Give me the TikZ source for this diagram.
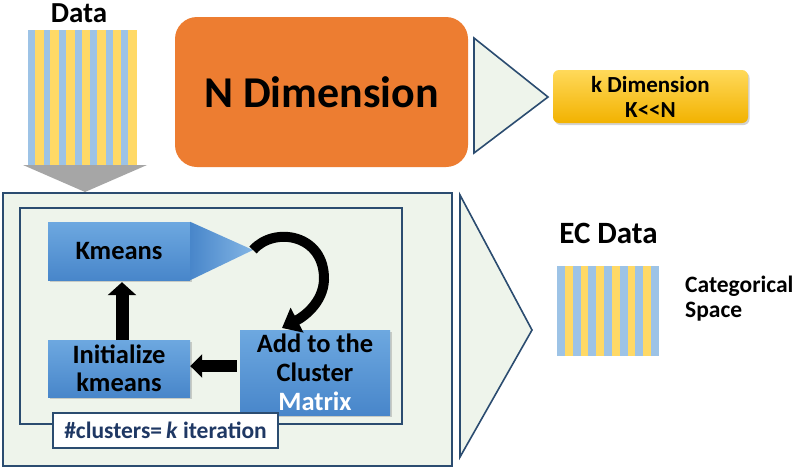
\documentclass[tikz,border=0pt]{standalone}
\usepackage{fontspec}
\setmainfont{Carlito}
\usetikzlibrary{arrows.meta,shadows,calc}
\definecolor{stripeblue}{HTML}{9DC3E6}
\definecolor{stripeyellow}{HTML}{FFD966}
\definecolor{framec}{HTML}{2B4C70}
\definecolor{panel}{HTML}{EEF4EB}
\definecolor{bluetop}{HTML}{6DA8E0}
\definecolor{bluebot}{HTML}{4886CA}
\definecolor{orangec}{HTML}{ED7D31}
\definecolor{yeltop}{HTML}{FFD95A}
\definecolor{yelbot}{HTML}{F2B200}
\definecolor{graya}{HTML}{A6A6A6}
\definecolor{navy}{HTML}{1F3864}
\tikzset{
  bluebox/.style={rectangle, top color=bluetop, bottom color=bluebot, draw=none,
    drop shadow={shadow xshift=1.5pt, shadow yshift=-2pt, opacity=0.35},
    font=\fontsize{26.5}{28.5}\selectfont\bfseries, text=black, align=center, inner sep=0pt},
  frame/.style={draw=framec, line width=1.6pt, fill=panel},
  outlinetri/.style={draw=framec, line width=1.6pt, fill=panel, line join=miter},
  fatarrow/.style={draw=black, line width=#1},
  title/.style={font=\fontsize{31}{33}\selectfont\bfseries, anchor=base, text=black},
}
\begin{document}
\begin{tikzpicture}[x=1pt,y=-1pt]
\useasboundingbox (0,0) rectangle (794,469);
\fill[white] (0,0) rectangle (794,469);

% Data title and stripes
\node[title, font=\fontsize{29}{31}\selectfont\bfseries] (datalbl) at (79,22.5) {Data};
\fill[stripeyellow] (28,30) rectangle (137,165);
\foreach \i in {0,...,6} {
  \fill[stripeblue] ({28+\i*15.57},30) rectangle ++(6.8,135);
}
% gray down arrow
\fill[graya] (23,165) -- (147,165) -- (85,192) -- cycle;

% N Dimension box
\node[rectangle, rounded corners=22pt, fill=orangec, minimum width=293pt, minimum height=150pt,
  font=\fontsize{44}{46}\selectfont\bfseries, text=black] (ndim) at (321.5,92) {N Dimension};

% top triangle
\draw[outlinetri] (474,38) -- (548,97) -- (474,153) -- cycle;

% k dimension box
\node[rectangle, rounded corners=6pt, top color=yeltop, bottom color=yelbot,
  drop shadow={shadow xshift=1.5pt, shadow yshift=-2pt, opacity=0.35},
  minimum width=195pt, minimum height=53pt, inner sep=0pt, align=center,
  font=\fontsize{23}{25}\selectfont\bfseries, text=black] (kdim) at (650.5,96.5) {k Dimension\\K<{}<N};

% outer panel
\draw[frame] (3,193) rectangle (452,466);
\draw[draw=framec, line width=1.6pt] (20,208) rectangle (402,424);

% Kmeans box with arrow head
\node[bluebox, minimum width=142pt, minimum height=58pt] (km) at (119,251) {Kmeans};
\shade[left color=bluebot, right color=bluetop!85!white] (km.north east) -- (253,250) -- (km.south east) -- cycle;
\coordinate (kmtip) at (253,250);

% Initialize box
\node[bluebox, minimum width=142pt, minimum height=57pt] (init) at (119,368.5) {Initialize\\kmeans};

% Add to cluster box
\node[bluebox, minimum width=150pt, minimum height=85pt, font=\fontsize{26.5}{29}\selectfont\bfseries] (add) at (315,372.5)
  {Add to the\\Cluster\\\textcolor{white}{Matrix}};

% label
\node[rectangle, draw=framec, line width=1.6pt, fill=white, minimum width=225pt, minimum height=35pt,
  inner sep=0pt, font=\fontsize{23.5}{25}\selectfont\bfseries, text=navy] (lbl) at (165.5,430.5)
  {\#clusters=\,\textit{k} iteration};

% arrows
\draw[fatarrow=13pt, -{Triangle[length=13pt,width=28pt]}] ([xshift=3pt]init.north) -- ([xshift=3pt,yshift=-2pt]km.south);
\draw[fatarrow=12pt, -{Triangle[length=12pt,width=23pt]}] ([xshift=-3pt,yshift=6.5pt]add.west) -- ([yshift=6.5pt]add.west -| init.east);
\coordinate (curveend) at (282,328);
\draw[fatarrow=10pt, -{Triangle[length=17pt,width=27pt]}] (kmtip) .. controls (274,226) and (325,234) .. (324,280)
   .. controls (323,302) and (305,316) .. (curveend);

% big triangle
\draw[outlinetri] (460,195) -- (532,330) -- (460,457) -- cycle;

% EC data
\node[title] (ecl) at (608.5,243) {EC Data};
\fill[stripeyellow] (557,266) rectangle (659,356);
\foreach \i in {0,2,...,12} {
  \fill[stripeblue] ({557+\i*7.846},266) rectangle ++(7.846,90);
}
\node[anchor=north west, align=left, inner sep=0pt, font=\fontsize{23.5}{25}\selectfont\bfseries, text=black] (cat) at (685,276) {Categorical\\Space};
\end{tikzpicture}
\end{document}
